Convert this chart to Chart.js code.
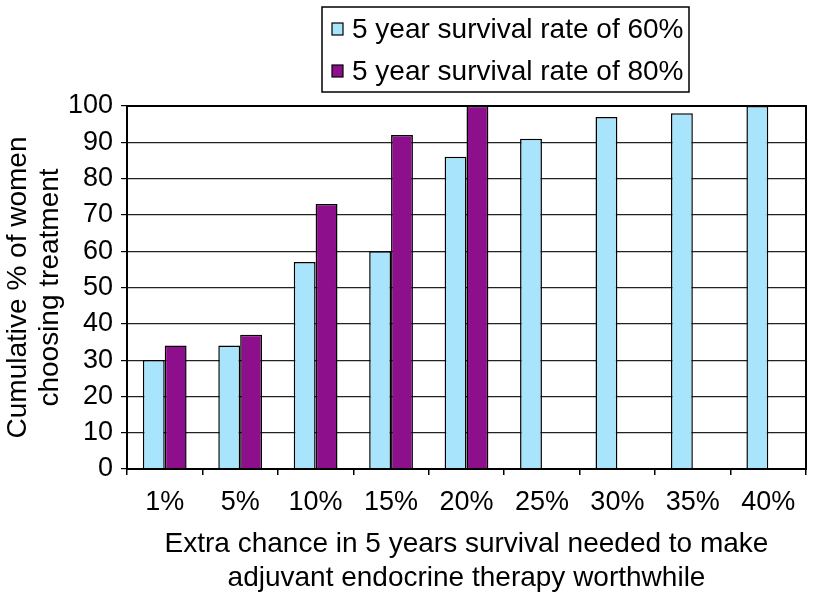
<!DOCTYPE html>
<html>
<head>
<meta charset="utf-8">
<script src="https://cdn.jsdelivr.net/npm/chart.js@4.4.0/dist/chart.umd.min.js"></script>
<style>
  body { margin: 0; background: white; }
  canvas { display: block; }
</style>
</head>
<body>
<canvas id="chart" width="819" height="596"></canvas>
<script>
// data
const categories = ['1%', '5%', '10%', '15%', '20%', '25%', '30%', '35%', '40%'];
const rate60 = [30, 34, 57, 60, 86, 91, 97, 98, 100];
const rate80 = [34, 37, 73, 92, 100, null, null, null, null];
const seriesLabels = ['5 year survival rate of 60%', '5 year survival rate of 80%'];
const yTicks = [0, 10, 20, 30, 40, 50, 60, 70, 80, 90, 100];

const FONT = "'Liberation Sans', Arial, sans-serif";

// frame round the plot + the boxed legend at the top
const framePlugin = {
    id: 'frame',
    afterDraw(chart) {
        let ctx = chart.ctx;
        let a = chart.chartArea;
        ctx.save();
        ctx.strokeStyle = '#000';
        ctx.lineWidth = 2;
        ctx.strokeRect(a.left, a.top, a.right - a.left, a.bottom - a.top);

        // legend box
        ctx.lineWidth = 1.5;
        ctx.strokeRect(322, 7, 367, 85);
        ctx.font = '28px ' + FONT;
        ctx.textBaseline = 'middle';
        let rows = [29, 71];
        chart.data.datasets.forEach((ds, i) => {
            ctx.fillStyle = ds.backgroundColor;
            ctx.fillRect(332, rows[i] - 6, 11, 12);
            ctx.strokeStyle = '#000';
            ctx.lineWidth = 1.2;
            ctx.strokeRect(332, rows[i] - 6, 11, 12);
            ctx.fillStyle = '#000';
            ctx.fillText(ds.label, 352, rows[i] + 1);
        });
        ctx.restore();
    }
};

let ctx = document.getElementById('chart');
let chart = new Chart(ctx, {
    type: 'bar',
    data: {
        labels: categories,
        datasets: [
            {
                label: seriesLabels[0],
                data: rate60,
                backgroundColor: '#a8e4fb',
                borderColor: '#000',
                borderWidth: 1.5,
            },
            {
                label: seriesLabels[1],
                data: rate80,
                backgroundColor: '#8e0f8b',
                borderColor: '#000',
                borderWidth: 1.5,
            }
        ],
    },
    options: {
        responsive: false,
        animation: false,
        layout: { padding: { top: 106, right: 13, left: 0, bottom: 0 } },
        categoryPercentage: 0.58,
        barPercentage: 1,
        scales: {
            x: {
                offset: true,
                grid: { display: true, drawOnChartArea: false, offset: true, tickLength: 6, color: '#000', lineWidth: 1.5 },
                border: { color: '#000', width: 2 },
                ticks: { color: '#000', font: { family: FONT, size: 27 }, padding: 11, maxRotation: 0, autoSkip: false },
                title: {
                    display: true,
                    text: ['Extra chance in 5 years survival needed to make', 'adjuvant endocrine therapy worthwhile'],
                    color: '#000',
                    font: { family: FONT, size: 28, lineHeight: '34px' },
                    padding: { top: 0, bottom: 1 },
                },
                afterFit: (scale) => { scale.height = 127; },
            },
            y: {
                min: 0,
                max: 100,
                afterBuildTicks: (scale) => { scale.ticks = yTicks.map((v) => ({ value: v })); },
                grid: { color: '#222', lineWidth: 1.2, tickLength: 6, tickColor: '#000' },
                border: { color: '#000', width: 2 },
                ticks: { color: '#000', font: { family: FONT, size: 27 }, padding: 8 },
                title: {
                    display: true,
                    text: ['Cumulative % of women', 'choosing treatment'],
                    color: '#000',
                    font: { family: FONT, size: 28, lineHeight: '32px' },
                    padding: { top: 2, bottom: 0 },
                },
                afterFit: (scale) => { scale.width = 127; },
            },
        },
        plugins: {
            legend: { display: false },
            tooltip: { enabled: false },
        },
    },
    plugins: [framePlugin],
});
</script>
</body>
</html>
